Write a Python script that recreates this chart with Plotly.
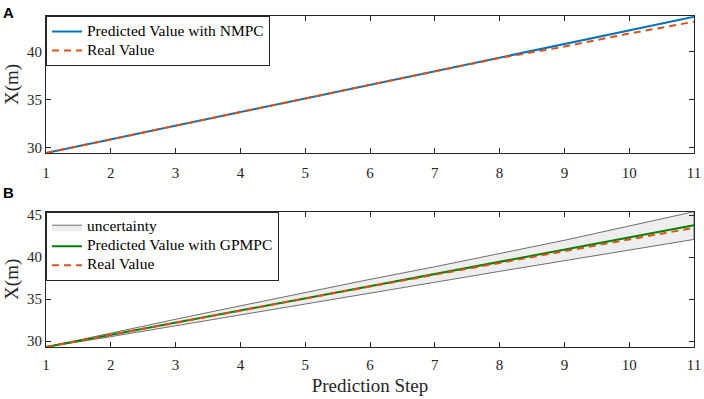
import plotly.graph_objects as go

steps = [1, 2, 3, 4, 5, 6, 7, 8, 9, 10, 11]

# Panel A
nmpc_pred = [29.45, 30.87, 32.29, 33.71, 35.13, 36.55, 37.97, 39.39, 40.78, 42.2, 43.62]
real_a = [29.45, 30.88, 32.3, 33.72, 35.13, 36.54, 37.94, 39.33, 40.52, 41.88, 43.1]

# Panel B
gp_pred = [29.3, 30.75, 32.2, 33.65, 35.1, 36.55, 38.0, 39.45, 40.9, 42.35, 43.78]
real_b = [29.3, 30.76, 32.2, 33.64, 35.07, 36.5, 37.92, 39.33, 40.72, 42.1, 43.48]
upper_b = [29.3, 30.97, 32.6, 34.2, 35.8, 37.35, 38.85, 40.4, 42.0, 43.7, 45.4]
lower_b = [29.3, 30.53, 31.8, 33.1, 34.4, 35.7, 37.0, 38.3, 39.58, 40.85, 42.1]

x_ticks = steps
y_ticks_a = [30, 35, 40]
y_ticks_b = [30, 35, 40, 45]

BLUE = "#0072BD"
RED = "#D95319"
GREEN = "#008000"
FONT = "Liberation Serif"
AXC = "#262626"


def lg(name):
    return '<span style="font-size:15.5px">' + name + '</span>'


fig = go.Figure()

fig.add_trace(go.Scatter(x=steps, y=nmpc_pred, mode="lines", name=lg("Predicted Value with NMPC"),
                         line=dict(color=BLUE, width=2), xaxis="x", yaxis="y", legend="legend"))
fig.add_trace(go.Scatter(x=steps, y=real_a, mode="lines", name=lg("Real Value"),
                         line=dict(color=RED, width=2, dash="7px,5px"), xaxis="x", yaxis="y", legend="legend"))

fig.add_trace(go.Scatter(x=steps + steps[::-1], y=upper_b + lower_b[::-1], mode="lines", fill="toself",
                         fillcolor="#EEEEEE", line=dict(color="#6E6E6E", width=1), name=lg("uncertainty"),
                         xaxis="x2", yaxis="y2", legend="legend2"))
fig.add_trace(go.Scatter(x=steps, y=gp_pred, mode="lines", name=lg("Predicted Value with GPMPC"),
                         line=dict(color=GREEN, width=2), xaxis="x2", yaxis="y2", legend="legend2"))
fig.add_trace(go.Scatter(x=steps, y=real_b, mode="lines", name=lg("Real Value"),
                         line=dict(color=RED, width=2, dash="7px,5px"), xaxis="x2", yaxis="y2", legend="legend2"))

axis_common = dict(showline=True, linecolor=AXC, linewidth=1, mirror="ticks", ticks="inside",
                   ticklen=5, tickcolor=AXC, tickwidth=1, showgrid=False, zeroline=False,
                   ticklabeloverflow="allow", automargin=False,
                   tickfont=dict(family=FONT, size=15, color="#262626"))

top_dom = [(347 - 153) / 331, 1.0]
bot_dom = [0.0, (347 - 211.7) / 331]

legend_common = dict(x=0, xanchor="left", yanchor="top", xref="paper", yref="paper",
                     bgcolor="white", bordercolor=AXC, borderwidth=1,
                     font=dict(family=FONT, size=11, color="black"), itemwidth=30,
                     tracegroupgap=0)

title_font = dict(family=FONT, size=19, color="#262626")

fig.update_layout(
    width=704, height=399,
    margin=dict(l=46, r=10, t=16, b=52),
    paper_bgcolor="white", plot_bgcolor="white",
    font=dict(family=FONT, size=15, color="black"),
    xaxis=dict(domain=[0, 1], anchor="y", range=[1, 11], tickvals=x_ticks, ticklabelstandoff=6,
               **axis_common),
    yaxis=dict(domain=top_dom, anchor="x", range=[29.45, 43.7], tickvals=y_ticks_a,
               title=dict(text="X(m)", font=title_font, standoff=3),
               **axis_common),
    xaxis2=dict(domain=[0, 1], anchor="y2", range=[1, 11], tickvals=x_ticks, ticklabelstandoff=4,
                title=dict(text="Prediction Step", font=title_font, standoff=6),
                **axis_common),
    yaxis2=dict(domain=bot_dom, anchor="x2", range=[29.3, 45.4], tickvals=y_ticks_b,
                title=dict(text="X(m)", font=title_font, standoff=3),
                **axis_common),
    legend=dict(y=1, **legend_common),
    legend2=dict(y=bot_dom[1], **legend_common),
)

ann = []
for txt, py in (("<b>A</b>", 13), ("<b>B</b>", 192)):
    ann.append(dict(text=txt, x=(8.5 - 46) / 648, y=(347 - py) / 331, xref="paper", yref="paper",
                    showarrow=False, xanchor="center", yanchor="middle",
                    font=dict(family="Liberation Sans", size=15, color="black")))
fig.update_layout(annotations=ann)

fig.write_html("out.html", config={"displayModeBar": False},
               post_script="document.body.style.margin='0';")
